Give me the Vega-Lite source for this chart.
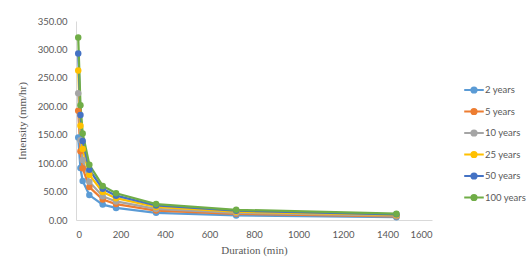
{
  "$schema": "https://vega.github.io/schema/vega-lite/v6.json",
  "width": 356,
  "height": 199,
  "autosize": "none",
  "padding": {"left": 76, "top": 21, "right": 97, "bottom": 47},
  "background": "white",
  "config": {
    "view": {"stroke": null},
    "axis": {
      "labelFont": "Lato",
      "labelFontSize": 9.5,
      "labelColor": "#595959",
      "titleFont": "Liberation Serif",
      "titleFontSize": 11,
      "titleFontWeight": "normal",
      "titleColor": "#595959",
      "domainColor": "#D9D9D9",
      "domainWidth": 1,
      "ticks": false,
      "grid": false
    }
  },
  "data": {
    "values": [
      {"duration": 10, "series": "2 years", "intensity": 145},
      {"duration": 20, "series": "2 years", "intensity": 91.4},
      {"duration": 30, "series": "2 years", "intensity": 68.7},
      {"duration": 60, "series": "2 years", "intensity": 43.8},
      {"duration": 120, "series": "2 years", "intensity": 27.1},
      {"duration": 180, "series": "2 years", "intensity": 21.2},
      {"duration": 360, "series": "2 years", "intensity": 12.6},
      {"duration": 720, "series": "2 years", "intensity": 8.1},
      {"duration": 1440, "series": "2 years", "intensity": 4.9},
      {"duration": 10, "series": "5 years", "intensity": 192},
      {"duration": 20, "series": "5 years", "intensity": 121},
      {"duration": 30, "series": "5 years", "intensity": 91},
      {"duration": 60, "series": "5 years", "intensity": 58},
      {"duration": 120, "series": "5 years", "intensity": 35.9},
      {"duration": 180, "series": "5 years", "intensity": 28},
      {"duration": 360, "series": "5 years", "intensity": 16.7},
      {"duration": 720, "series": "5 years", "intensity": 10.8},
      {"duration": 1440, "series": "5 years", "intensity": 6.5},
      {"duration": 10, "series": "10 years", "intensity": 223},
      {"duration": 20, "series": "10 years", "intensity": 140.5},
      {"duration": 30, "series": "10 years", "intensity": 105.7},
      {"duration": 60, "series": "10 years", "intensity": 67.3},
      {"duration": 120, "series": "10 years", "intensity": 41.7},
      {"duration": 180, "series": "10 years", "intensity": 32.6},
      {"duration": 360, "series": "10 years", "intensity": 19.4},
      {"duration": 720, "series": "10 years", "intensity": 12.5},
      {"duration": 1440, "series": "10 years", "intensity": 7.6},
      {"duration": 10, "series": "25 years", "intensity": 263},
      {"duration": 20, "series": "25 years", "intensity": 165.7},
      {"duration": 30, "series": "25 years", "intensity": 124.7},
      {"duration": 60, "series": "25 years", "intensity": 79.4},
      {"duration": 120, "series": "25 years", "intensity": 49.2},
      {"duration": 180, "series": "25 years", "intensity": 38.4},
      {"duration": 360, "series": "25 years", "intensity": 22.9},
      {"duration": 720, "series": "25 years", "intensity": 14.7},
      {"duration": 1440, "series": "25 years", "intensity": 8.9},
      {"duration": 10, "series": "50 years", "intensity": 293},
      {"duration": 20, "series": "50 years", "intensity": 184.6},
      {"duration": 30, "series": "50 years", "intensity": 138.9},
      {"duration": 60, "series": "50 years", "intensity": 88.5},
      {"duration": 120, "series": "50 years", "intensity": 54.8},
      {"duration": 180, "series": "50 years", "intensity": 42.8},
      {"duration": 360, "series": "50 years", "intensity": 25.5},
      {"duration": 720, "series": "50 years", "intensity": 16.4},
      {"duration": 1440, "series": "50 years", "intensity": 10},
      {"duration": 10, "series": "100 years", "intensity": 321},
      {"duration": 20, "series": "100 years", "intensity": 202},
      {"duration": 30, "series": "100 years", "intensity": 152},
      {"duration": 60, "series": "100 years", "intensity": 97},
      {"duration": 120, "series": "100 years", "intensity": 60},
      {"duration": 180, "series": "100 years", "intensity": 47},
      {"duration": 360, "series": "100 years", "intensity": 28},
      {"duration": 720, "series": "100 years", "intensity": 18},
      {"duration": 1440, "series": "100 years", "intensity": 11}
    ]
  },
  "encoding": {
    "x": {
      "field": "duration",
      "type": "quantitative",
      "title": "Duration (min)",
      "scale": {"domain": [0, 1600], "nice": false},
      "axis": {"values": [0, 200, 400, 600, 800, 1000, 1200, 1400, 1600], "format": "d", "labelPadding": 9, "titlePadding": 6}
    },
    "y": {
      "field": "intensity",
      "type": "quantitative",
      "title": "Intensity (mm/hr)",
      "scale": {"domain": [0, 350], "nice": false},
      "axis": {"values": [0, 50, 100, 150, 200, 250, 300, 350], "format": ".2f", "labelPadding": 9, "titlePadding": 10}
    },
    "color": {
      "field": "series",
      "type": "nominal",
      "sort": ["2 years", "5 years", "10 years", "25 years", "50 years", "100 years"],
      "scale": {
        "domain": ["2 years", "5 years", "10 years", "25 years", "50 years", "100 years"],
        "range": ["#5B9BD5", "#ED7D31", "#A5A5A5", "#FFC000", "#4472C4", "#70AD47"]
      },
      "legend": {
        "title": null,
        "orient": "none",
        "legendX": 390,
        "legendY": 61,
        "symbolType": "M-1.5,0H1.5M0.4,0A0.4,0.4,0,1,1,-0.4,0A0.4,0.4,0,1,1,0.4,0Z",
        "symbolSize": 170,
        "symbolStrokeWidth": 2,
        "symbolFillColor": null,
        "rowPadding": 6.5,
        "labelFont": "Lato",
        "labelFontSize": 9.5,
        "labelColor": "#595959",
        "labelOffset": 3
      }
    }
  },
  "layer": [
    {"mark": {"type": "line", "strokeWidth": 2.25}},
    {"mark": {"type": "point", "filled": true, "opacity": 1, "size": 42}}
  ]
}
